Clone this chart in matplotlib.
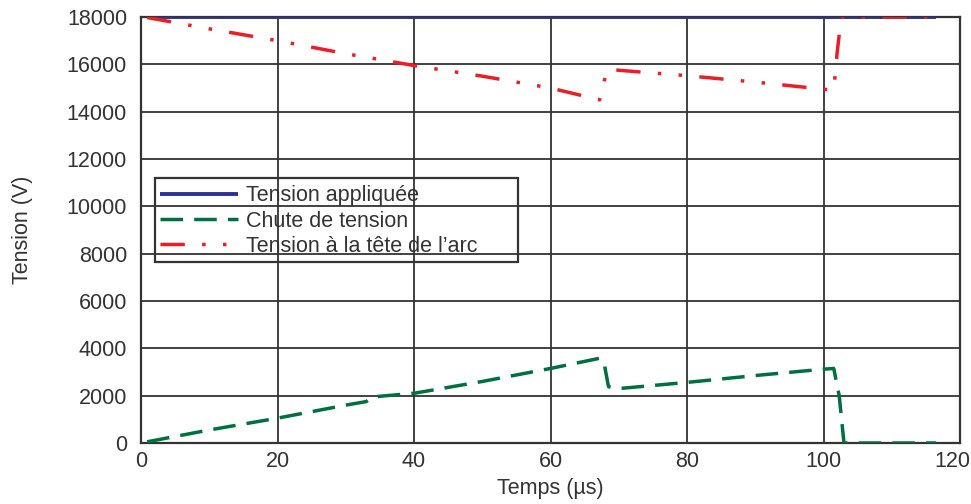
import matplotlib
matplotlib.use("Agg")
import matplotlib.pyplot as plt
from matplotlib.patches import Rectangle
from matplotlib.transforms import ScaledTranslation

plt.rcParams['font.family'] = ['Liberation Sans', 'DejaVu Sans']

# Data
t_app = [0.9, 116.5]
v_app = [18000, 18000]

t_chute = [0.9, 10, 20, 30, 33, 34, 40, 50, 60, 67.2, 67.8, 68.5, 70, 80, 90, 100, 101.5, 102.3, 103, 116.5]
v_chute = [50, 550, 1050, 1600, 1750, 1950, 2100, 2600, 3150, 3580, 3450, 2380, 2300, 2560, 2850, 3120, 3150, 2000, 0, 0]

t_arc = [0.9, 10, 20, 30, 40, 50, 60, 67.2, 67.6, 68.5, 70, 80, 90, 100, 101.5, 102.0, 102.6, 116.5]
v_arc = [17980, 17500, 17000, 16450, 15950, 15500, 15000, 14500, 15100, 15800, 15750, 15520, 15250, 14950, 14900, 16500, 18000, 18000]

x_ticks = [0, 20, 40, 60, 80, 100, 120]
y_ticks = list(range(0, 18001, 2000))

fig = plt.figure(figsize=(9.71, 5.04), dpi=100)
ax = fig.add_axes([141/971, (504-443)/504, (960-141)/971, (443-17)/504])

ax.plot(t_app, v_app, color='#2e3192', lw=2.8, solid_capstyle='butt', label='Tension appliquée', zorder=3)
ax.plot(t_chute, v_chute, color='#007040', lw=2.5, dashes=(6.5, 3.2), label='Chute de tension', zorder=4)
ax.plot(t_arc, v_arc, color='#ee1c25', lw=2.5, dashes=(7, 5, 1, 5, 1, 5), label='Tension à la tête de l’arc', zorder=5)

ax.set_xlim(0, 120)
ax.set_ylim(0, 18000)
ax.set_xticks(x_ticks)
ax.set_yticks(y_ticks)
ax.grid(True, color='#333333', lw=1.3)
ax.set_axisbelow(True)
for s in ax.spines.values():
    s.set_color('#333333')
    s.set_linewidth(1.6)
ax.tick_params(axis='x', length=0, labelsize=15.5, colors='#333333', pad=6)
ax.tick_params(axis='y', length=0, labelsize=15.5, colors='#333333', pad=10)
ax.set_xlabel('Temps (µs)', fontsize=15.5, color='#333333', labelpad=4)
ax.set_ylabel('Tension (V)', fontsize=15.5, color='#333333', labelpad=24)

# shift last x tick label slightly left so it fits
lab = ax.get_xticklabels()[-1]
lab.set_transform(lab.get_transform() + ScaledTranslation(-8/100, 0, fig.dpi_scale_trans))

leg = ax.legend(loc='upper left', bbox_to_anchor=((155-141)/819, (443-180)/426),
                fontsize=15.5, frameon=False, handlelength=3.6, borderpad=0.25,
                labelspacing=0.2, handletextpad=0.4, borderaxespad=0)
for txt in leg.get_texts():
    txt.set_color('#333333')

ax.add_patch(Rectangle(((155-141)/819, (443-262)/426), (518-155)/819, (262-178)/426,
                       transform=ax.transAxes, fill=False, edgecolor='#333333',
                       lw=1.6, zorder=6))

fig.savefig('out.png', dpi=100)
